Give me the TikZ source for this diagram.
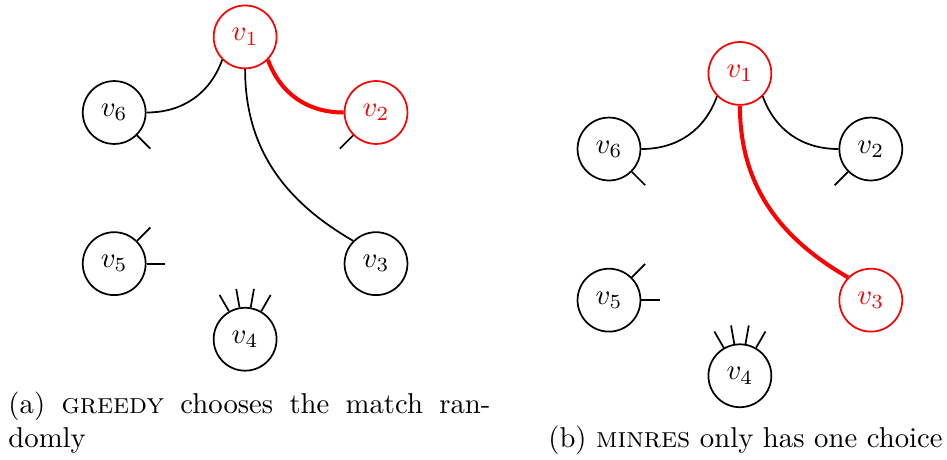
\documentclass[tikz,border=0pt]{standalone}
\tikzset{
	vtx/.style={circle,draw,semithick,minimum size=0.77cm,inner sep=0pt},
	hot/.style={red},
	pick/.style={red,line width=1.4pt}
}

\begin{document}
\begin{tikzpicture}
			\useasboundingbox (-3.0,-3.328) rectangle (8.591,2.302);
			\node[vtx,hot] (a1) at (90:1.85) {$v_1$};
			\node[vtx,hot] (a2) at (30:1.85) {$v_2$};
			\node[vtx] (a3) at (-30:1.85) {$v_3$};
			\node[vtx] (a4) at (-90:1.85) {$v_4$};
			\node[vtx] (a5) at (-150:1.85) {$v_5$};
			\node[vtx] (a6) at (150:1.85) {$v_6$};
			\draw[semithick] (a1.-135) to[out=-110,in=0] (a6);
			\draw[semithick] (a1) to[out=-90,in=150] (a3.135);
			\draw[pick] (a1.-45) to[out=-70,in=180] (a2);
			\begin{scope}[shift={(6.056,-0.447)}]
				\node[vtx,hot] (b1) at (90:1.85) {$v_1$};
				\node[vtx] (b2) at (30:1.85) {$v_2$};
				\node[vtx,hot] (b3) at (-30:1.85) {$v_3$};
				\node[vtx] (b4) at (-90:1.85) {$v_4$};
				\node[vtx] (b5) at (-150:1.85) {$v_5$};
				\node[vtx] (b6) at (150:1.85) {$v_6$};
			\end{scope}
			\draw[semithick] (b1.-135) to[out=-110,in=0] (b6);
			\draw[semithick] (b1.-45) to[out=-70,in=180] (b2);
			\draw[pick] (b1) to[out=-90,in=150] (b3.135);
			\foreach \g in {a,b} {
				\draw[semithick] (\g6.-45) -- ++(-45:.23);
				\draw[semithick] (\g2.-135) -- ++(-135:.23);
				\foreach \t in {0,45} \draw[semithick] (\g5.\t) -- ++(\t:.23);
				\foreach \t in {60,80,100,120} \draw[semithick] (\g4.\t) -- ++(\t:.23);
			}
			\node[text width=5.9cm,align=justify,anchor=base west,inner sep=0pt] (capa) at (-2.903,-2.753) {(a) \textsc{greedy} chooses the match ran-\linebreak domly};
			\node[anchor=base,inner sep=0pt] (capb) at (6.124,-3.181) {(b) \textsc{minres} only has one choice};
\end{tikzpicture}
\end{document}
